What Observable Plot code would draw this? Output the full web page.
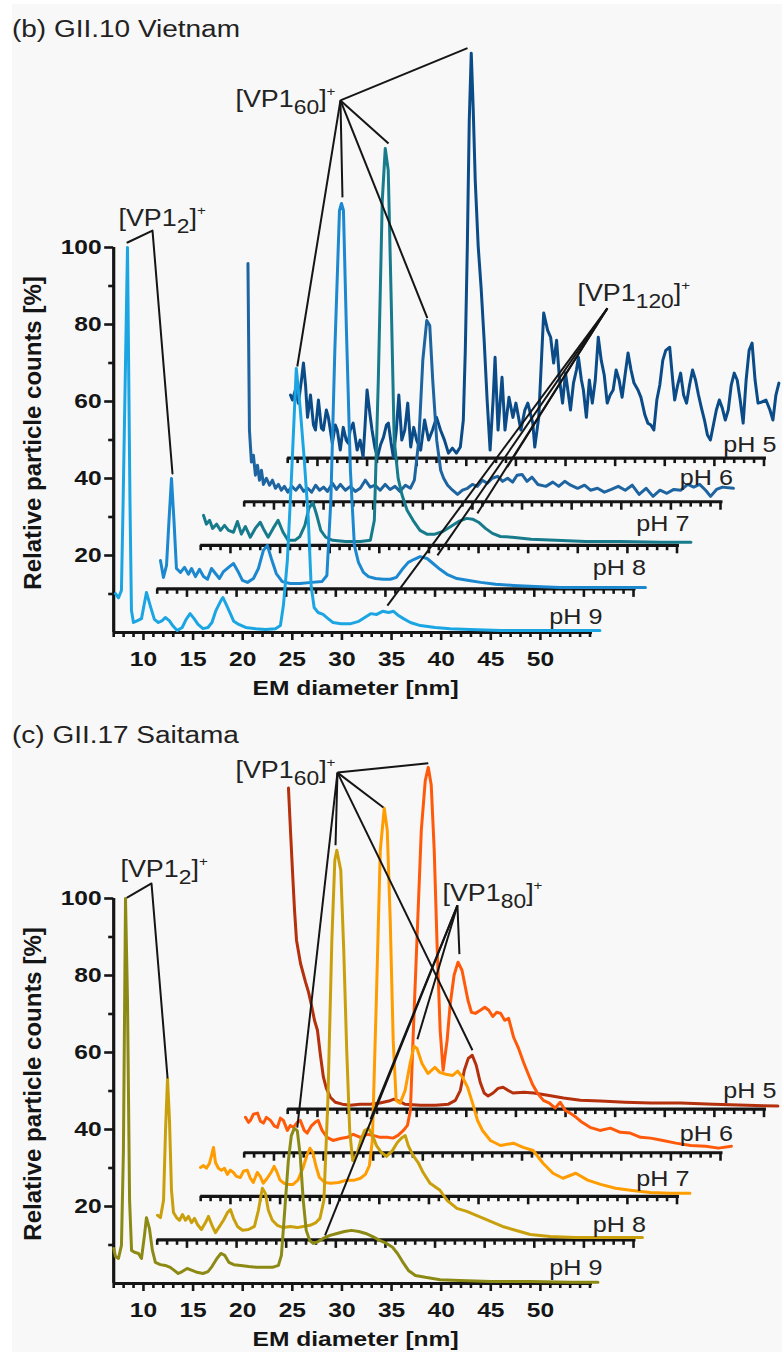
<!DOCTYPE html>
<html><head><meta charset="utf-8">
<script src="https://cdn.jsdelivr.net/npm/d3@7"></script>
<script src="https://cdn.jsdelivr.net/npm/@observablehq/plot@0.6"></script>
<style>
html,body{margin:0;padding:0;background:#fff;}
#page{position:relative;width:782px;height:1354px;overflow:hidden;}
#bg{position:absolute;left:12px;top:4px;width:770px;height:1348px;background:#f8f8f8;}
.title{position:absolute;left:12px;font:23.5px "Liberation Sans",Arial,sans-serif;color:#222;line-height:24px;white-space:nowrap;transform:scaleX(1.19);transform-origin:0 0;}
.panel{position:absolute;left:0;}
</style></head><body>
<div id="page"><div id="bg"></div>
<div class="title" style="top:17px">(b) GII.10 Vietnam</div>
<div class="title" style="top:723px">(c) GII.17 Saitama</div>
<div class="panel" id="pb" style="top:0px"></div>
<div class="panel" id="pc" style="top:651px"></div>
</div>
<script>
// ---------- categories ----------
const phLabels = ["pH 9", "pH 8", "pH 7", "pH 6", "pH 5"];
const xTickLabels = [10, 15, 20, 25, 30, 35, 40, 45, 50];
const yTickLabels = [20, 40, 60, 80, 100];
const vietnamColors = ["#1ba6e3", "#1b88cf", "#177b8c", "#1d64a0", "#0b4c88"];
const saitamaColors = ["#8c8a14", "#c9a00c", "#ff9c00", "#ff5a0a", "#b5300c"];

// ---------- (b) GII.10 Vietnam : [EM diameter nm, relative counts %] ----------
const b_pH9 = [[7.18,10.1],[7.48,9.0],[7.78,10.9],[7.95,34],[8.39,100],[8.64,34],[8.79,5.7],[8.99,2.6],[9.4,3.1],[9.8,3.6],[10.3,10.4],[10.7,6.8],[11.1,3.4],[11.5,2.6],[11.9,3.1],[12.2,3.9],[12.6,3.1],[13.0,1.6],[13.4,0.5],[13.9,1.3],[14.3,3.4],[14.7,4.9],[15.1,3.6],[15.5,2.1],[16.0,1.0],[16.5,1.3],[16.9,2.6],[17.3,5.7],[17.8,8.3],[18.0,9.1],[18.3,7.5],[18.7,5.2],[19.1,2.9],[19.6,2.1],[20.3,1.3],[21.3,1.0],[22.3,0.8],[23.3,1.0],[23.8,1.8],[24.1,7.0],[24.5,18.7],[24.9,39.5],[25.4,68.6],[25.8,58],[26.2,45],[26.6,30],[26.9,12],[27.2,6.5],[27.6,5.2],[28.1,4.7],[28.6,3.6],[29.1,2.6],[29.9,2.3],[30.9,2.3],[31.7,2.9],[32.3,3.9],[32.9,4.9],[33.5,4.7],[34.1,5.5],[34.7,5.2],[35.2,5.5],[35.7,4.4],[36.2,3.6],[36.9,2.6],[37.9,1.8],[39.4,1.3],[40.9,1.0],[42.9,0.8],[46.0,0.5],[49.0,0.5],[52.0,0.5],[56.0,0.5]];
const b_pH8 = [[7.33,7.4],[7.63,3.0],[7.94,6.1],[8.19,17.8],[8.44,28.7],[8.69,17.8],[8.94,5.3],[9.35,4.3],[9.75,5.6],[10.15,3.8],[10.46,5.3],[10.86,3.2],[11.26,5.1],[11.67,3.2],[12.07,2.5],[12.47,5.3],[12.87,4.0],[13.27,2.7],[13.68,4.5],[14.28,5.8],[14.69,6.6],[15.09,4.8],[15.59,2.2],[16.1,1.7],[16.7,2.7],[17.2,5.3],[17.7,10.0],[18.1,11.3],[18.5,7.9],[19.0,4.0],[19.6,1.9],[20.4,1.4],[21.4,1.4],[22.6,1.7],[23.6,1.9],[24.1,3.5],[24.5,23.0],[24.9,61.9],[25.37,98.3],[25.57,100.1],[25.77,98.3],[26.07,67.1],[26.47,30.8],[26.87,11.3],[27.28,6.9],[27.78,4.3],[28.29,3.2],[29.0,2.7],[29.8,2.5],[30.5,2.5],[31.1,3.0],[31.7,5.1],[32.3,6.9],[32.9,7.7],[33.5,8.4],[34.2,7.9],[34.8,6.6],[35.5,5.1],[36.2,3.8],[37.2,2.7],[38.4,2.2],[39.6,1.7],[41.1,1.2],[42.9,0.9],[45.1,0.6],[47.6,0.4],[50.7,0.4],[53.7,0.4],[56.2,0.4]];
const b_pH7 = [[7.28,7.8],[7.58,5.5],[7.9,6.5],[8.2,4.4],[8.6,5.5],[9.0,3.9],[9.4,5.2],[9.8,3.9],[10.3,3.4],[10.7,6.2],[11.1,2.9],[11.5,4.9],[12.0,2.1],[12.5,4.4],[13.0,6.0],[13.4,3.9],[13.8,2.1],[14.3,4.4],[14.8,6.5],[15.3,3.4],[15.8,1.3],[16.5,1.3],[17.0,2.3],[17.5,5.2],[17.9,9.6],[18.3,11.2],[18.7,7.8],[19.1,3.9],[19.6,2.1],[20.3,1.3],[21.6,1.0],[23.1,1.0],[24.1,1.3],[24.5,6.5],[24.9,42.9],[25.3,89.6],[25.6,103.1],[25.9,97.4],[26.2,63.6],[26.5,27.3],[26.9,17.4],[27.3,13.0],[27.8,9.1],[28.4,6.5],[29.1,3.9],[29.8,2.9],[30.6,2.9],[31.4,3.6],[32.2,4.9],[33.0,6.2],[33.8,7.0],[34.4,6.8],[35.0,6.0],[35.7,4.4],[36.4,3.1],[37.2,2.3],[38.4,2.1],[40.3,1.6],[42.8,1.3],[45.8,1.0],[49.3,1.0],[53.4,0.8],[56.4,0.8]];
const b_pH6 = [[7.38,61.9],[7.53,18.6],[7.73,10.3],[7.93,12.1],[8.13,6.9],[8.34,9.5],[8.54,5.6],[8.74,8.2],[8.94,4.5],[9.24,6.1],[9.55,4.3],[9.85,5.6],[10.15,3.5],[10.45,4.5],[10.75,3.0],[11.05,4.0],[11.4,2.5],[11.8,4.0],[12.2,3.0],[12.6,4.3],[13.0,2.7],[13.4,3.5],[13.8,2.5],[14.2,4.3],[14.6,3.0],[15.0,3.8],[15.4,2.7],[15.9,4.8],[16.3,3.2],[16.7,4.5],[17.2,3.0],[17.7,4.0],[18.2,2.7],[18.7,3.5],[19.2,5.6],[19.7,3.8],[20.2,4.3],[20.7,3.0],[21.2,4.5],[21.7,3.2],[22.2,4.0],[22.7,2.7],[23.25,4.3],[23.75,3.5],[24.15,5.6],[24.6,16.0],[25.0,36.7],[25.4,47.1],[25.7,45.8],[26.0,31.6],[26.4,16.0],[26.8,8.2],[27.1,6.1],[27.5,4.3],[28.0,3.0],[28.5,1.9],[29.0,3.0],[29.5,3.5],[30.0,4.5],[30.5,4.0],[31.0,5.6],[31.5,4.8],[32.0,6.1],[32.55,6.6],[33.05,5.3],[33.55,6.1],[34.05,5.1],[34.5,6.9],[35.0,7.1],[35.5,5.3],[36.0,6.4],[36.6,4.5],[37.4,4.0],[38.1,5.1],[38.7,4.0],[39.3,5.3],[39.9,4.3],[40.6,3.5],[41.3,4.3],[41.9,3.0],[42.6,3.5],[43.3,2.5],[44.0,3.2],[44.7,4.0],[45.4,3.0],[46.1,4.3],[46.8,1.9],[47.5,3.5],[48.2,1.4],[48.9,3.0],[49.6,2.2],[50.3,3.2],[51.0,3.0],[51.7,4.5],[52.3,3.8],[52.9,4.5],[53.5,3.0],[54.0,1.4],[54.6,3.2],[55.2,3.8],[56.3,3.5]];
const b_pH5 = [[7.28,16.4],[7.48,15.1],[7.78,17.7],[8.08,14.3],[8.39,20.3],[8.59,24.7],[8.8,19.0],[9.0,10.6],[9.3,16.4],[9.6,8.6],[9.8,7.3],[10.1,15.1],[10.4,7.8],[10.6,7.3],[10.9,12.5],[11.1,10.6],[11.5,3.9],[11.8,8.6],[12.0,7.3],[12.3,2.1],[12.6,8.0],[12.9,4.7],[13.1,3.9],[13.3,7.3],[13.6,9.1],[14.0,2.1],[14.3,4.7],[14.6,0.3],[14.8,8.6],[15.0,17.7],[15.3,11.2],[15.5,7.3],[15.8,2.6],[16.05,0.3],[16.35,3.4],[16.65,5.4],[16.95,8.6],[17.15,9.1],[17.45,3.4],[17.65,0.3],[17.95,7.3],[18.2,16.4],[18.5,4.7],[18.8,7.3],[19.1,14.3],[19.4,2.9],[19.7,8.0],[20.0,4.7],[20.4,2.1],[20.8,9.9],[21.2,4.7],[21.6,7.3],[22.0,10.6],[22.4,7.3],[22.8,4.7],[23.2,1.3],[23.6,2.6],[24.0,1.3],[24.4,2.9],[24.7,9.9],[24.9,28.0],[25.1,54.5],[25.3,87.8],[25.5,105.2],[25.7,90.4],[25.9,72.2],[26.2,55.0],[26.5,44.0],[26.8,30.6],[27.1,15.1],[27.4,2.1],[27.7,15.1],[27.9,26.2],[28.2,7.3],[28.6,21.0],[28.9,7.3],[29.3,15.8],[29.7,10.6],[30.0,14.3],[30.5,7.3],[30.9,12.5],[31.2,14.3],[31.7,9.1],[31.9,2.9],[32.3,10.6],[32.8,37.7],[33.2,33.2],[33.5,31.4],[33.8,24.7],[34.1,30.6],[34.4,20.3],[34.7,14.3],[35.0,22.1],[35.3,16.4],[35.5,12.5],[35.8,19.5],[36.1,22.9],[36.3,26.2],[36.6,20.3],[36.8,17.7],[37.1,10.6],[37.4,20.3],[37.7,14.3],[38.0,20.3],[38.3,31.4],[38.6,25.4],[38.9,21.6],[39.2,14.3],[39.5,16.4],[39.8,17.7],[40.1,22.9],[40.4,20.3],[40.7,15.8],[41.0,21.6],[41.3,27.3],[41.6,22.9],[41.9,19.5],[42.3,17.7],[42.6,15.8],[43.0,11.2],[43.3,9.1],[43.6,8.6],[43.9,7.3],[44.2,15.1],[44.5,19.0],[44.8,25.4],[45.1,28.0],[45.5,28.8],[45.8,20.3],[46.0,15.1],[46.3,19.0],[46.6,22.1],[46.9,16.4],[47.2,14.3],[47.5,19.0],[47.8,22.9],[48.1,20.3],[48.4,16.4],[48.7,13.0],[49.0,9.9],[49.3,6.0],[49.6,4.7],[49.9,8.6],[50.2,12.5],[50.5,15.1],[50.8,13.0],[51.1,9.9],[51.4,12.5],[51.7,19.0],[52.0,22.1],[52.3,20.3],[52.6,15.1],[52.9,9.1],[53.2,20.3],[53.5,28.0],[53.8,29.9],[54.1,20.3],[54.4,14.3],[54.8,14.6],[55.2,15.1],[55.6,12.5],[55.9,9.9],[56.2,16.4],[56.5,19.5]];

// ---------- (c) GII.17 Saitama ----------
const c_pH9 = [[7.0,9.1],[7.18,7.0],[7.48,6.5],[7.78,9.9],[7.98,34.5],[8.19,100],[8.39,73.5],[8.6,21.6],[8.8,8.6],[9.1,8.1],[9.5,7.8],[9.8,6.5],[10.1,12.5],[10.3,17.1],[10.6,14.3],[10.9,8.6],[11.2,5.5],[11.7,4.9],[12.2,4.7],[12.7,4.2],[13.1,3.4],[13.5,2.6],[13.9,3.1],[14.4,3.9],[14.9,3.4],[15.4,2.9],[16.0,2.6],[16.5,3.1],[16.9,4.4],[17.4,6.5],[17.8,7.8],[18.2,7.3],[18.6,5.5],[19.1,4.9],[19.8,4.7],[20.6,4.4],[21.4,4.2],[22.2,4.2],[23.0,4.2],[23.6,4.7],[23.9,7.3],[24.2,17.7],[24.6,31.9],[24.9,38.4],[25.2,40.3],[25.5,39.7],[25.8,33.2],[26.1,21.6],[26.4,13.8],[26.75,11.2],[27.1,10.4],[27.6,10.9],[28.1,11.7],[28.8,12.5],[29.5,13.0],[30.25,13.5],[30.96,13.8],[31.7,13.5],[32.4,13.0],[33.1,12.2],[33.8,11.2],[34.5,10.4],[35.1,9.4],[35.6,7.8],[36.1,5.7],[36.7,3.4],[37.4,2.1],[38.4,1.6],[39.9,1.0],[41.9,0.8],[45.0,0.5],[49.0,0.5],[53.0,0.3],[55.8,0.3]];
const c_pH8 = [[7.03,6.4],[7.33,5.8],[7.64,10.3],[7.84,28.4],[8.04,41.9],[8.24,31.0],[8.44,12.9],[8.64,7.1],[8.95,5.8],[9.25,5.1],[9.55,6.6],[9.85,5.1],[10.15,6.1],[10.46,4.5],[10.76,5.6],[11.06,4.0],[11.46,2.7],[11.87,4.5],[12.17,6.1],[12.57,3.5],[12.87,1.9],[13.28,3.5],[13.68,5.1],[14.08,7.1],[14.38,7.9],[14.69,5.6],[15.09,3.5],[15.6,2.5],[16.2,2.7],[16.8,3.5],[17.2,7.7],[17.6,13.4],[17.9,12.1],[18.2,7.7],[18.6,5.1],[19.1,3.8],[19.7,3.2],[20.4,3.5],[21.1,3.2],[21.7,3.5],[22.4,3.8],[23.0,4.5],[23.4,5.6],[23.8,10.3],[24.2,36.2],[24.6,77.8],[24.9,98.6],[25.1,101.2],[25.5,96.0],[25.8,75.2],[26.1,49.2],[26.4,28.4],[26.7,20.6],[27.1,21.9],[27.5,25.8],[27.9,28.4],[28.3,29.0],[28.7,27.1],[29.1,24.5],[29.6,22.7],[30.1,21.7],[30.7,23.2],[31.2,25.3],[31.6,26.4],[32.0,27.1],[32.3,24.5],[32.8,21.9],[33.3,20.1],[33.8,17.5],[34.5,14.7],[35.5,12.9],[36.2,10.3],[37.2,8.2],[38.2,7.4],[39.4,6.1],[40.6,4.8],[41.8,3.5],[43.1,2.5],[44.6,1.4],[46.6,0.9],[49.1,0.6],[51.6,0.6],[55.9,0.6]];
const c_pH7 = [[6.98,7.5],[7.28,8.0],[7.58,7.3],[7.89,8.6],[8.09,10.6],[8.29,12.7],[8.49,8.8],[8.79,7.3],[9.09,6.8],[9.39,7.3],[9.69,5.7],[9.99,6.8],[10.3,6.2],[10.6,5.2],[11.0,4.9],[11.3,6.5],[11.7,6.8],[12.0,4.7],[12.3,3.6],[12.7,6.2],[13.0,5.2],[13.3,3.4],[13.7,4.7],[14.1,6.2],[14.4,7.8],[14.7,6.2],[15.0,4.2],[15.4,3.4],[15.8,3.1],[16.3,3.1],[16.8,4.2],[17.3,7.3],[17.7,10.6],[18.0,12.5],[18.3,11.4],[18.6,8.0],[18.96,4.9],[19.5,3.6],[20.1,3.4],[20.9,3.6],[21.7,4.2],[22.5,4.2],[23.1,4.7],[23.6,5.7],[24.0,8.0],[24.3,14.5],[24.7,50.9],[25.1,89.9],[25.5,100.8],[25.8,95.1],[26.1,71.7],[26.4,40.5],[26.7,24.9],[27.1,24.2],[27.6,27.5],[28.1,34.5],[28.5,39.0],[28.8,38.4],[29.3,34.5],[29.9,31.9],[30.6,33.5],[31.1,32.2],[31.7,31.7],[32.4,31.4],[32.9,32.5],[33.4,30.9],[33.9,28.3],[34.4,24.2],[34.9,19.7],[35.4,17.1],[36.2,14.5],[37.2,13.2],[38.5,13.8],[39.5,12.7],[40.5,11.9],[41.5,8.6],[42.5,6.0],[43.5,4.7],[44.8,6.0],[46.0,4.2],[47.3,3.1],[48.8,2.1],[50.3,1.6],[52.3,1.0],[54.3,0.8],[56.3,0.8]];
const c_pH6 = [[7.13,9.2],[7.43,7.9],[7.63,8.4],[7.93,10.0],[8.34,10.3],[8.64,8.2],[8.94,7.7],[9.24,9.2],[9.65,8.4],[10.05,6.9],[10.35,6.6],[10.65,9.0],[10.95,8.4],[11.35,5.8],[11.65,7.1],[11.95,6.6],[12.35,7.9],[12.65,8.4],[13.05,5.8],[13.35,5.1],[13.75,6.9],[14.15,7.9],[14.45,8.4],[14.85,5.8],[15.35,4.0],[15.95,3.2],[16.7,3.7],[17.4,4.0],[18.0,4.8],[18.7,4.0],[19.4,4.8],[20.0,4.5],[20.7,4.0],[21.4,4.0],[22.0,3.8],[22.5,4.5],[23.05,5.8],[23.45,7.1],[23.75,11.0],[24.05,31.8],[24.45,57.8],[24.85,83.8],[25.25,96.7],[25.55,100.1],[25.85,95.5],[26.15,78.6],[26.45,53.1],[26.75,31.8],[27.05,21.4],[27.45,29.2],[27.75,38.3],[28.15,46.1],[28.55,49.5],[28.95,47.4],[29.25,43.5],[29.55,39.6],[29.9,36.5],[30.3,36.2],[30.8,37.0],[31.25,37.8],[31.65,37.0],[32.05,35.4],[32.45,36.5],[32.85,36.2],[33.25,34.4],[33.65,34.9],[34.15,30.0],[34.65,27.1],[35.15,23.5],[35.55,20.9],[36.05,17.8],[36.55,15.5],[37.15,13.6],[37.75,12.9],[38.35,11.6],[38.85,13.1],[39.35,11.0],[39.85,10.3],[40.45,9.2],[41.05,7.9],[41.85,6.6],[42.85,5.8],[43.9,6.4],[44.9,5.3],[45.9,5.1],[46.95,4.0],[47.95,3.8],[49.2,3.2],[50.5,2.5],[52.0,1.9],[53.5,1.7],[54.8,1.2],[56.1,1.7]];
const c_pH5 = [[7.08,83.4],[7.28,72.5],[7.48,62.1],[7.69,51.7],[7.89,43.9],[8.29,37.9],[8.8,33.0],[9.1,30.4],[9.4,27.0],[9.7,23.1],[10.0,20.5],[10.3,14.0],[10.6,8.3],[10.9,5.4],[11.3,3.1],[11.8,1.8],[12.5,1.3],[13.3,1.0],[14.3,1.3],[15.3,1.3],[16.3,1.6],[17.2,2.1],[17.7,2.6],[18.2,2.1],[18.8,1.3],[20.4,1.0],[21.9,1.0],[23.2,1.3],[23.9,2.3],[24.4,4.9],[24.8,10.1],[25.2,13.2],[25.6,14.0],[26.0,11.4],[26.4,7.0],[26.8,4.2],[27.2,3.4],[27.7,4.2],[28.2,5.4],[28.7,5.7],[29.2,4.9],[29.7,4.2],[30.8,4.4],[31.8,4.2],[33.2,3.6],[34.8,2.9],[36.5,2.3],[38.5,2.1],[41.0,1.8],[43.6,1.6],[46.6,1.6],[49.9,1.3],[53.3,1.0],[56.4,0.8]];

// ---------- annotations (i = trace index, null = main axes) ----------
const b_labels = [{sub:"2", x:7.48, y:105.5}, {sub:"60", x:19.27, y:136.6}, {sub:"120", x:53.73, y:86.2}];
const b_vp1_2 = [{i:0, x:8.39, y:101.3}, {i:null, x:10.91, y:104.4}, {i:1, x:8.54, y:30.0}];
const b_vp1_60 = {anchor:{x:29.85, y:138.2}, targets:[{i:0,x:25.5,y:69.1},{i:1,x:25.67,y:101.7},{i:2,x:25.93,y:104.4},{i:3,x:25.46,y:47.7},{i:4,x:25.12,y:106.5}]};
const b_vp1_120 = {anchor:{x:56.75, y:84.2}, targets:[{i:0,x:34.58,y:7.0},{i:1,x:35.24,y:8.7},{i:2,x:34.88,y:8.3},{i:3,x:33.5,y:9.0}]};

const c_labels = [{sub:"2", x:7.68, y:105.5}, {sub:"60", x:19.27, y:131.4}, {sub:"80", x:40.13, y:99.3}];
const c_vp1_2 = [{i:0, x:8.39, y:100.3}, {i:null, x:10.81, y:103.9}, {i:1, x:8.04, y:42.2}];
const c_vp1_60 = {anchor:{x:29.55, y:132.7}, targets:[{i:0,x:25.5,y:40.5},{i:1,x:24.97,y:102.5},{i:2,x:25.41,y:101.0},{i:3,x:25.55,y:101.2},{i:4,x:25.62,y:15.3}]};
const c_vp1_80 = {anchor:{x:41.64, y:98.2}, targets:[{i:0,x:28.3,y:12.5},{i:1,x:28.49,y:31.3},{i:2,x:28.84,y:40.8},{i:3,x:28.69,y:51.6}]};

// ---------- layout ----------
const DX = 4.383, DY = 11.32;      // waterfall shift per trace (nm, %)
const X0 = 7, X1 = 55.25;
const INK = "#151515";
const FONT = "Liberation Sans, Arial, sans-serif";
const STRETCH = 1.17;              // the source figure's lettering is horizontally wide
const b_phDy = [2.3, 3.6, 3.6, 4.4, 1.6];
const c_phDy = [2.1, 2.1, 2.6, 3.1, 2.9];

const sx = p => p.i == null ? p.x : p.x + p.i * DX;
const sy = p => p.i == null ? p.y : p.y + p.i * DY;

function panel({traces, colors, labels, poly, fans, phDy, height}) {
  const rows = traces.flatMap((t, i) => t.map(([x, y]) => ({i, x: x + i * DX, y: y + i * DY})));
  const ticks = [];
  for (let i = 0; i < 5; i++) for (let t = 7; t <= 55; t++) ticks.push({i, t, major: t % 5 === 0});
  const marks = [];
  // main axes
  marks.push(Plot.ruleX([X0], {y1: 0, y2: 100, stroke: INK, strokeWidth: 3.2}));
  marks.push(Plot.ruleY([0], {x1: X0, x2: X1, stroke: INK, strokeWidth: 3.2}));
  marks.push(Plot.axisY({ticks: yTickLabels, tickSize: 9, tickPadding: 3, stroke: INK, strokeWidth: 2.6, fontSize: 21, fontWeight: "bold", fill: INK, label: null}));
  marks.push(Plot.axisY({ticks: [10, 30, 50, 70, 90], tickSize: 5, stroke: INK, strokeWidth: 2.6, fill: "none", label: null}));
  marks.push(Plot.axisX({ticks: xTickLabels, tickSize: 8, tickPadding: 11, stroke: INK, strokeWidth: 2.6, fontSize: 21, fontWeight: "bold", fill: INK, label: null}));
  marks.push(Plot.axisX({ticks: d3.range(7, 56).filter(t => !xTickLabels.includes(t)), tickSize: 5, stroke: INK, strokeWidth: 2.6, fill: "none", label: null}));
  // offset axes + traces, back to front
  for (let i = 4; i >= 0; i--) {
    if (i > 0) {
      marks.push(Plot.ruleY([i * DY], {x1: X0 + i * DX, x2: X1 + i * DX, stroke: INK, strokeWidth: 3.2}));
      marks.push(Plot.ruleX(ticks.filter(d => d.i === i), {x: d => d.t + d.i * DX, y1: d => d.i * DY, y2: d => d.i * DY - (d.major ? 2.2 : 1.4), stroke: INK, strokeWidth: 2.6}));
    }
    marks.push(Plot.line(rows.filter(d => d.i === i), {x: "x", y: "y", stroke: colors[i], strokeWidth: 3, strokeLinejoin: "round"}));
  }
  // pH labels
  marks.push(Plot.text(phLabels, {x: (d, i) => X1 + i * DX + 1.0, y: (d, i) => i * DY + phDy[i], text: d => d, textAnchor: "end", lineAnchor: "bottom", fontSize: 21.5, fill: "#222"}));
  // annotation lines
  marks.push(Plot.line(poly, {x: sx, y: sy, stroke: INK, strokeWidth: 2}));
  for (const f of fans) {
    marks.push(Plot.link(f.targets, {x1: f.anchor.x, y1: f.anchor.y, x2: sx, y2: sy, stroke: INK, strokeWidth: 2}));
  }
  marks.push(Plot.text(labels, {x: "x", y: "y", text: d => `[VP1${d.sub}]+`, textAnchor: "start", lineAnchor: "bottom", fontSize: 23, fill: "#222"}));
  // axis titles
  marks.push(Plot.text(["Relative particle counts [%]"], {frameAnchor: "left", textAnchor: "middle", lineAnchor: "middle", dx: -80, dy: -7, rotate: -90, fontWeight: "bold", fontSize: 24, fill: INK}));
  marks.push(Plot.text(["EM diameter [nm]"], {frameAnchor: "bottom", textAnchor: "middle", dx: 2.5, dy: 56, lineAnchor: "middle", fontWeight: "bold", fontSize: 21, fill: INK}));

  const svg = Plot.plot({
    width: 782, height,
    marginLeft: 113.2, marginRight: 190, marginTop: 247, marginBottom: height - 632,
    x: {domain: [X0, X1]},
    y: {domain: [0, 100]},
    style: {fontFamily: FONT, background: "transparent", overflow: "visible", color: INK},
    marks
  });
  // chemical notation: subscript count and superscript charge
  d3.select(svg).selectAll("text").each(function () {
    const m = /^\[VP1(\d+)\]\+$/.exec(this.textContent);
    if (!m) return;
    const t = d3.select(this); t.text(null);
    t.append("tspan").text("[VP1");
    t.append("tspan").attr("font-size", 19.5).attr("dy", 7).text(m[1]);
    t.append("tspan").attr("dy", -7).text("]");
    t.append("tspan").attr("font-size", 13).attr("dy", -11).text("+");
  });
  // wide lettering for horizontal text
  d3.select(svg).selectAll("text").each(function () {
    const tr = this.getAttribute("transform") || "";
    if (tr.includes("rotate")) return;
    this.setAttribute("transform", `${tr} scale(${STRETCH},1)`);
  });
  return svg;
}

document.getElementById("pb").append(panel({
  traces: [b_pH9, b_pH8, b_pH7, b_pH6, b_pH5], colors: vietnamColors, labels: b_labels,
  poly: b_vp1_2, fans: [b_vp1_60, b_vp1_120], phDy: b_phDy, height: 705
}));
document.getElementById("pc").append(panel({
  traces: [c_pH9, c_pH8, c_pH7, c_pH6, c_pH5], colors: saitamaColors, labels: c_labels,
  poly: c_vp1_2, fans: [c_vp1_60, c_vp1_80], phDy: c_phDy, height: 703
}));
</script>
</body></html>
